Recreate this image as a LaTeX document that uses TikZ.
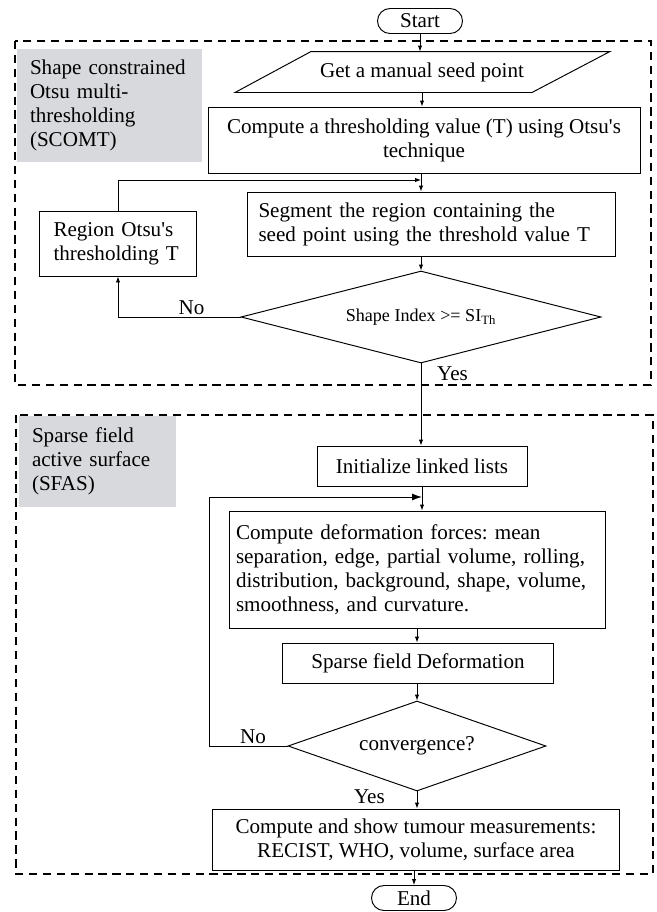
\documentclass[tikz,border=0pt]{standalone}
\usepackage{fontspec}
\setmainfont{Liberation Serif}[Ligatures=TeXOff]
\usetikzlibrary{shapes.geometric,arrows.meta,positioning}
\definecolor{stagegray}{RGB}{216,217,220}

\begin{document}
\begin{tikzpicture}[>={Latex[length=0.12cm,width=0.09cm]}, line width=0.55pt,
        font=\fontsize{12}{13.7}\selectfont\frenchspacing,
        termbox/.style={draw, rounded corners=0.25cm, minimum width=1.7cm, minimum height=0.5cm, inner sep=0pt},
        procbox/.style={draw, minimum height=0.8cm, align=center, inner sep=0pt},
        iobox/.style={minimum width=5.94cm, minimum height=0.8cm, inner sep=0pt},
        decbox/.style={draw, diamond, aspect=3, inner sep=0pt},
        stagebox/.style={fill=stagegray, align=left, inner ysep=0pt, inner xsep=0.26cm},
        frame/.style={dash pattern=on 4.7pt off 3.2pt, line width=1.25pt},
        yesno/.style={inner sep=1pt}]
        \useasboundingbox (0,0) rectangle (13.12,-18.24);

        \draw[frame] (0.30,-0.82) rectangle (13.02,-7.70);
        \draw[frame] (0.32,-8.30) rectangle (13.06,-17.48);
        \node[stagebox, text width=3.18cm, minimum height=2.26cm] (stage1) at (2.19,-2.11) {Shape constrained\\Otsu multi-\\thresholding\\(SCOMT)};
        \node[stagebox, text width=2.62cm, minimum height=1.82cm] (stage2) at (1.95,-9.23) {Sparse field\\active surface\\(SFAS)};

        \node[termbox] (start) at (8.40,-0.42) {Start};
        \node[iobox, below of=start, xshift=0.04cm, yshift=-0.02cm] (seed) {Get a manual seed point};
        \node[procbox, below of=seed, xshift=0.04cm, yshift=-0.36cm, minimum width=8.64cm, minimum height=1.32cm] (thresh) {Compute a thresholding value (T) using Otsu's\\technique};
        \node[procbox, below of=thresh, xshift=0.14cm, yshift=-0.68cm, text width=6.9cm, inner xsep=0.23cm, minimum height=1.28cm, align=left] (segment) {Segment the region containing the\\seed point using the threshold value T};
        \node[decbox, below of=segment, xshift=-0.2cm, yshift=-0.86cm, minimum width=7.2cm, minimum height=1.84cm, font=\fontsize{10.3}{12}\selectfont] (dia1) {Shape Index >= SI\textsubscript{Th}};
        \node[procbox, left of=segment, xshift=-5.26cm, yshift=-0.39cm, text width=2.58cm, inner xsep=0.28cm, minimum height=1.3cm, align=left] (region) {Region Otsu's\\thresholding T};
        \node[procbox, below of=dia1, xshift=0.02cm, yshift=-1.98cm, minimum width=4.2cm] (init) {Initialize linked lists};
        \node[procbox, below of=init, xshift=-0.1cm, yshift=-1.07cm, text width=7.24cm, inner xsep=0.14cm, minimum height=2.34cm, align=left] (forces) {Compute deformation forces: mean\\separation, edge, partial volume, rolling,\\distribution, background, shape, volume,\\smoothness, and curvature.};
        \node[procbox, below of=forces, xshift=0.02cm, yshift=-0.87cm, minimum width=5.42cm] (sparse) {Sparse field Deformation};
        \node[decbox, below of=sparse, xshift=-0.02cm, yshift=-0.66cm, minimum width=5.16cm, minimum height=1.8cm] (dia2) {convergence?};
        \node[procbox, below of=dia2, xshift=-0.02cm, yshift=-0.87cm, minimum width=8.14cm, minimum height=1.22cm] (final) {Compute and show tumour measurements:\\RECIST, WHO, volume, surface area};
        \node[termbox, below of=final, xshift=-0.04cm, yshift=-0.17cm] (end) {End};

        \draw ([xshift=-0.76cm]seed.south west) -- ([xshift=0.76cm]seed.north west) -- ([xshift=0.78cm]seed.north east) -- ([xshift=-0.78cm]seed.south east) -- cycle;

        \coordinate (m1) at (8.42,-3.60);
        \coordinate (m2) at (8.44,-9.94);
        \coordinate (loop2) at (4.18,-9.94);

        \draw[->] (start) -- (start |- seed.north);
        \draw[->] (seed) -- (seed |- thresh.north);
        \draw[->] (m1 |- thresh.south) -- (m1 |- segment.north);
        \draw[->] (dia1 |- segment.south) -- (dia1.north);
        \draw[->] (dia1.west) -| node[yesno, pos=0.2, above] {No} (region.south);
        \draw[->] (region.north) |- (m1);
        \draw[->] (dia1.south) -- node[yesno, pos=0.12, right=0.28cm] {Yes} (dia1.south |- init.north);
        \draw[->] (m2 |- init.south) -- (m2 |- forces.north);
        \draw[->] (forces.south) -- (forces.south |- sparse.north);
        \draw[->] (dia2 |- sparse.south) -- (dia2.north);
        \draw[-{Latex[length=0.2cm,width=0.14cm]}] (dia2.west) -| node[yesno, pos=0.22, above] {No} (loop2) -- (loop2 -| init);
        \draw[->] (dia2.south) -- node[yesno, pos=0.28, left=0.6cm] {Yes} (dia2.south |- final.north);
        \draw[->] (end |- final.south) -- (end.north);
      \end{tikzpicture}
\end{document}
